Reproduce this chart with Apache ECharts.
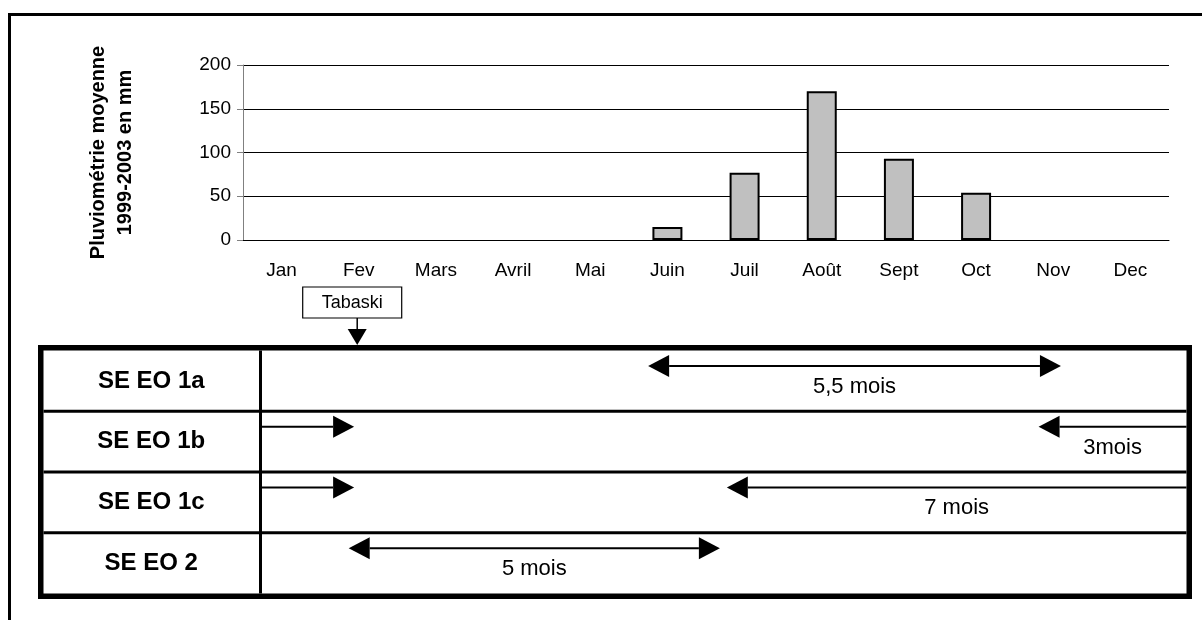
<!DOCTYPE html>
<html>
<head>
<meta charset="utf-8">
<script src="https://cdn.jsdelivr.net/npm/echarts@6/dist/echarts.min.js"></script>
<style>
  html, body { margin: 0; padding: 0; background: #fff; }
  #chart { width: 1202px; height: 620px; }
</style>
</head>
<body>
<div id="chart"></div>
<script>
// Monthly rainfall (mm), average 1999-2003
const months = ['Jan', 'Fev', 'Mars', 'Avril', 'Mai', 'Juin', 'Juil', 'Août', 'Sept', 'Oct', 'Nov', 'Dec'];
const rainfall = [0, 0, 0, 0, 0, 15, 77, 170, 93, 54, 0, 0];
const rainMin = 0;
const rainMax = 200;
const rainStep = 50;

// Livestock systems and their periods, in months since 1 January
// (0 = start of Jan, 12 = end of Dec). ±Infinity: the period runs on past the table edge.
const systemRows = ['SE EO 1a', 'SE EO 1b', 'SE EO 1c', 'SE EO 2'];
const periodRow = [0, 1, 1, 2, 2, 3];
const periodFrom = [5.25, -Infinity, Infinity, -Infinity, Infinity, 1.37];
const periodTo = [10.6, 1.44, 10.31, 1.44, 6.27, 6.18];
const periodBothHeads = [true, false, false, false, false, true];
const periodLabel = ['5,5 mois', '', '3mois', '', '7 mois', '5 mois'];

// Feast marker
const tabaskiMonth = 1.48;
const tabaskiLabel = 'Tabaski';

const FONT = '"Liberation Sans", Arial, Helvetica, sans-serif';
const W = 1202, H = 620;
const PLOT = { left: 243, right: 33, top: 65, bottom: 380 };
const TABLE = { x0: 38, x1: 1192, y0: 345, y1: 599, border: 5.5, divider: 260.5, rule: 3 };
const inner = {
  x0: TABLE.x0 + TABLE.border, x1: TABLE.x1 - TABLE.border,
  y0: TABLE.y0 + TABLE.border, y1: TABLE.y1 - TABLE.border
};
const rowH = (inner.y1 - inner.y0) / systemRows.length;

function arrowParts(xa, xb, y, both, head, half, width) {
  const dir = Math.sign(xb - xa) || 1;
  const parts = [{
    type: 'line',
    shape: { x1: both ? xa + dir * head : xa, y1: y, x2: xb - dir * head, y2: y },
    style: { stroke: '#000', lineWidth: width }
  }, {
    type: 'polygon',
    shape: { points: [[xb, y], [xb - dir * head, y - half], [xb - dir * head, y + half]] },
    style: { fill: '#000' }
  }];
  if (both) {
    parts.push({
      type: 'polygon',
      shape: { points: [[xa, y], [xa + dir * head, y - half], [xa + dir * head, y + half]] },
      style: { fill: '#000' }
    });
  }
  return parts;
}

function renderPeriod(params, api) {
  const i = api.value(2);
  const yc = api.coord([0, periodRow[i]])[1];
  const px = v => v === -Infinity ? TABLE.divider
    : v === Infinity ? inner.x1
    : api.coord([v, periodRow[i]])[0];
  const xa = px(periodFrom[i]);
  const xb = px(periodTo[i]);
  const children = arrowParts(xa, xb, yc - 15, periodBothHeads[i], 21, 11, 2);
  if (periodLabel[i]) {
    children.push({
      type: 'text',
      style: {
        x: (xa + xb) / 2, y: yc + 6, text: periodLabel[i],
        fontSize: 22, fontFamily: FONT, fill: '#000',
        align: 'center', verticalAlign: 'middle'
      }
    });
  }
  return { type: 'group', children };
}

function renderTabaski(params, api) {
  const x = api.coord([api.value(0), 0])[0];
  const boxBottom = TABLE.y0 - 27, boxH = 31, boxW = 99;
  const bx = x - 5;
  return {
    type: 'group',
    children: [
      { type: 'rect', shape: { x: bx - boxW / 2, y: boxBottom - boxH, width: boxW, height: boxH },
        style: { fill: '#fff', stroke: '#000', lineWidth: 1.2 } },
      { type: 'text', style: { x: bx, y: boxBottom - boxH / 2 + 1, text: tabaskiLabel,
        fontSize: 18, fontFamily: FONT, fill: '#000', align: 'center', verticalAlign: 'middle' } },
      { type: 'line', shape: { x1: x, y1: boxBottom, x2: x, y2: TABLE.y0 - 16 },
        style: { stroke: '#000', lineWidth: 1.5 } },
      { type: 'polygon', shape: { points: [[x, TABLE.y0], [x - 9.5, TABLE.y0 - 16], [x + 9.5, TABLE.y0 - 16]] },
        style: { fill: '#000' } }
    ]
  };
}

// Frame and rules of the table
const graphics = [
  { type: 'rect', shape: { x: 8, y: 13, width: W - 8, height: 3 }, style: { fill: '#000' } },
  { type: 'rect', shape: { x: 8, y: 13, width: 3, height: H - 13 }, style: { fill: '#000' } },
  { type: 'rect',
    shape: { x: TABLE.x0 + TABLE.border / 2, y: TABLE.y0 + TABLE.border / 2,
             width: TABLE.x1 - TABLE.x0 - TABLE.border, height: TABLE.y1 - TABLE.y0 - TABLE.border },
    style: { fill: 'none', stroke: '#000', lineWidth: TABLE.border } },
  { type: 'line', shape: { x1: TABLE.divider, y1: inner.y0, x2: TABLE.divider, y2: inner.y1 },
    style: { stroke: '#000', lineWidth: TABLE.rule } }
];
for (let r = 1; r < systemRows.length; r++) {
  const y = inner.y0 + r * rowH;
  graphics.push({ type: 'line', shape: { x1: inner.x0, y1: y, x2: inner.x1, y2: y },
    style: { stroke: '#000', lineWidth: TABLE.rule } });
}

// Dry months get no outline, so nothing is drawn on the baseline for them
const barData = rainfall.map(v => v === 0 ? { value: v, itemStyle: { borderWidth: 0 } } : v);

const chart = echarts.init(document.getElementById('chart'), null, { renderer: 'canvas' });
chart.setOption({
  backgroundColor: '#fff',
  animation: false,
  textStyle: { fontFamily: FONT, color: '#000' },
  graphic: graphics,
  grid: [
    { left: PLOT.left, right: PLOT.right, top: PLOT.top, bottom: PLOT.bottom, containLabel: false },
    { left: PLOT.left, right: PLOT.right, top: inner.y0, bottom: H - inner.y1, containLabel: false }
  ],
  xAxis: [
    {
      type: 'category', gridIndex: 0, data: months,
      axisLine: { lineStyle: { color: '#000', width: 1 } },
      axisTick: { length: 6, lineStyle: { color: '#000' } },
      axisLabel: { fontSize: 19, color: '#000', margin: 21, fontFamily: FONT }
    },
    { type: 'value', gridIndex: 1, min: 0, max: 12, show: false }
  ],
  yAxis: [
    {
      type: 'value', gridIndex: 0, min: rainMin, max: rainMax, interval: rainStep,
      name: 'Pluviométrie moyenne\n1999-2003 en mm',
      nameLocation: 'middle', nameGap: 104,
      nameTextStyle: { fontSize: 20, fontWeight: 'bold', lineHeight: 27, color: '#000', fontFamily: FONT },
      axisLine: { show: true, lineStyle: { color: '#808080' } },
      axisTick: { show: true, length: 6, lineStyle: { color: '#808080' } },
      axisLabel: { fontSize: 19, color: '#000', margin: 12, fontFamily: FONT },
      splitLine: { lineStyle: { color: '#000', width: 1 } }
    },
    {
      type: 'category', gridIndex: 1, data: systemRows, inverse: true,
      axisLine: { show: false }, axisTick: { show: false }, splitLine: { show: false },
      axisLabel: { fontSize: 24, fontWeight: 'bold', color: '#000', margin: PLOT.left - (TABLE.x0 + TABLE.divider) / 2 - 2,
                   align: 'center', fontFamily: FONT }
    }
  ],
  series: [
    {
      type: 'bar', xAxisIndex: 0, yAxisIndex: 0, data: barData, barWidth: 30,
      itemStyle: { color: '#C0C0C0', borderColor: '#000', borderWidth: 2 }
    },
    {
      type: 'custom', xAxisIndex: 1, yAxisIndex: 1, clip: false,
      data: periodTo.map((t, i) => [t, periodRow[i], i]),
      encode: { x: 0, y: 1 },
      renderItem: renderPeriod, z: 5
    },
    {
      type: 'custom', xAxisIndex: 1, yAxisIndex: 1, clip: false,
      data: [[tabaskiMonth, 0]],
      encode: { x: 0, y: 1 },
      renderItem: renderTabaski, z: 5
    }
  ]
});
</script>
</body>
</html>
